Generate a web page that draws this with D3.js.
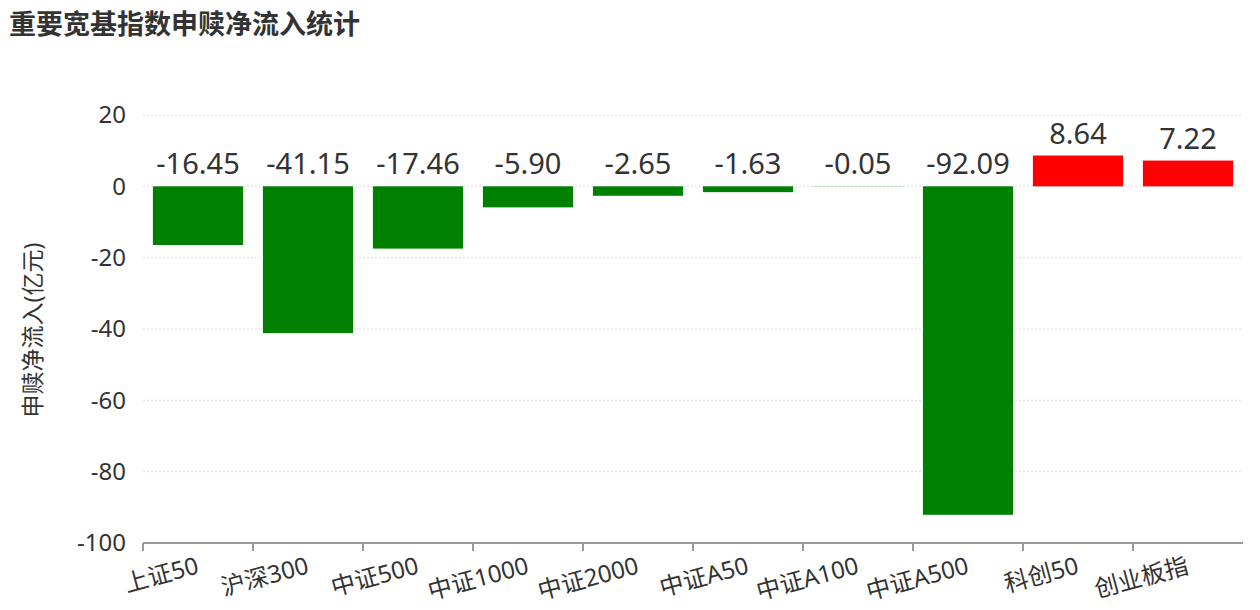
<!DOCTYPE html>
<html>
<head>
<meta charset="utf-8">
<script src="https://cdn.jsdelivr.net/npm/d3@7"></script>
<style>
  body { margin: 0; background: #fff; }
  svg { font-family: "Noto Sans", "Noto Sans CJK SC", sans-serif; }
</style>
</head>
<body>
<div id="chart"></div>
<script>
  var categories = ['上证50', '沪深300', '中证500', '中证1000', '中证2000', '中证A50', '中证A100', '中证A500', '科创50', '创业板指'];
  var values = [-16.45, -41.15, -17.46, -5.90, -2.65, -1.63, -0.05, -92.09, 8.64, 7.22];
  var yTicks = [20, 0, -20, -40, -60, -80, -100];

  var width = 1260, height = 610;
  var margin = { left: 143, right: 17, top: 115, bottom: 67 };

  var svg = d3.select('#chart').append('svg')
    .attr('width', width)
    .attr('height', height);

  // title
  svg.append('text')
    .attr('x', 9)
    .attr('y', 34)
    .attr('font-size', 27)
    .attr('font-weight', 'bold')
    .attr('fill', '#333')
    .attr('font-family', '"Noto Sans CJK SC", sans-serif')
    .text('重要宽基指数申赎净流入统计');

  var x = d3.scaleBand()
    .domain(categories)
    .range([margin.left, width - margin.right])
    .paddingInner(0.18)
    .paddingOuter(0.09);

  var xb = d3.scaleBand()
    .domain(categories)
    .range([margin.left, width - margin.right]);

  var y = d3.scaleLinear()
    .domain([-100, 20])
    .range([height - margin.bottom, margin.top]);

  // grid
  svg.append('g')
    .selectAll('line')
    .data(yTicks.filter(function (d) { return d !== -100; }))
    .enter().append('line')
    .attr('x1', margin.left)
    .attr('x2', width - margin.right)
    .attr('y1', function (d) { return y(d); })
    .attr('y2', function (d) { return y(d); })
    .attr('stroke', '#dcdcdc')
    .attr('stroke-dasharray', '2,2');

  // y axis labels
  svg.append('g')
    .selectAll('text')
    .data(yTicks)
    .enter().append('text')
    .attr('x', 126)
    .attr('y', function (d) { return y(d); })
    .attr('dy', '0.35em')
    .attr('text-anchor', 'end')
    .attr('font-size', 24)
    .attr('fill', '#333')
    .text(function (d) { return d; });

  svg.append('text')
    .attr('transform', 'translate(41,' + 330 + ') rotate(-90)')
    .attr('text-anchor', 'middle')
    .attr('font-size', 23)
    .attr('fill', '#333')
    .text('申赎净流入(亿元)');

  // bars
  svg.append('g')
    .selectAll('rect')
    .data(values)
    .enter().append('rect')
    .attr('x', function (d, i) { return x(categories[i]); })
    .attr('width', x.bandwidth())
    .attr('y', function (d) { return Math.min(y(d), y(0)); })
    .attr('height', function (d) { return Math.abs(y(d) - y(0)); })
    .attr('fill', function (d) { return d < 0 ? '#008000' : '#ff0000'; });

  // value labels
  svg.append('g')
    .selectAll('text')
    .data(values)
    .enter().append('text')
    .attr('x', function (d, i) { return x(categories[i]) + x.bandwidth() / 2; })
    .attr('y', function (d) { return Math.min(y(d), y(0)) - 12; })
    .attr('text-anchor', 'middle')
    .attr('font-size', 29)
    .attr('fill', '#333')
    .text(function (d) { return d.toFixed(2); });

  // x axis
  var xAxis = svg.append('g');
  xAxis.append('line')
    .attr('x1', margin.left)
    .attr('x2', width - margin.right)
    .attr('y1', y(-100))
    .attr('y2', y(-100))
    .attr('stroke', '#999')
    .attr('stroke-width', 2);

  xAxis.selectAll('.tick')
    .data(categories)
    .enter().append('line')
    .attr('x1', function (d) { return xb(d); })
    .attr('x2', function (d) { return xb(d); })
    .attr('y1', y(-100))
    .attr('y2', y(-100) + 8)
    .attr('stroke', '#999')
    .attr('stroke-width', 2);

  xAxis.selectAll('text')
    .data(categories)
    .enter().append('text')
    .attr('transform', function (d) {
      return 'translate(' + (xb(d) + xb.bandwidth() / 2 + 2) + ',' + (y(-100) + 30) + ') rotate(-15)';
    })
    .attr('text-anchor', 'end')
    .attr('font-size', 24)
    .attr('fill', '#333')
    .text(function (d) { return d; });
</script>
</body>
</html>
